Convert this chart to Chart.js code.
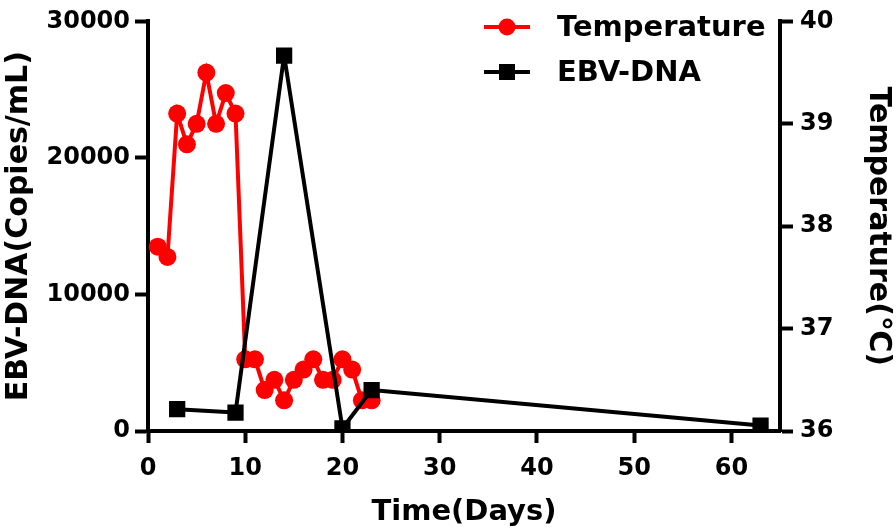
<!DOCTYPE html>
<html>
<head>
<meta charset="utf-8">
<script src="https://cdn.jsdelivr.net/npm/chart.js@4.4.0/dist/chart.umd.min.js"></script>
<style>
  html, body { margin: 0; padding: 0; background: #fff; }
  #chart { display: block; }
</style>
</head>
<body>
<canvas id="chart" width="896" height="532"></canvas>
<script>
// values
const tempDays = [1, 2, 3, 4, 5, 6, 7, 8, 9, 10, 11, 12, 13, 14, 15, 16, 17, 18, 19, 20, 21, 22, 23];
const tempValues = [37.8, 37.7, 39.1, 38.8, 39.0, 39.5, 39.0, 39.3, 39.1, 36.7, 36.7, 36.4, 36.5, 36.3, 36.5, 36.6, 36.7, 36.5, 36.5, 36.7, 36.6, 36.3, 36.3];
const ebvDays = [3, 9, 14, 20, 23, 63];
const ebvValues = [1600, 1350, 27500, 200, 3000, 400];
const xTicks = [0, 10, 20, 30, 40, 50, 60];
const leftTicks = [0, 10000, 20000, 30000];
const rightTicks = [36, 37, 38, 39, 40];

const FONT = 'DejaVu Sans';
const tickFont = { family: FONT, size: 24, weight: 'bold' };
const titleFont = { family: FONT, size: 30, weight: 'bold' };

const toPoints = (xs, ys) => xs.map((x, i) => ({ x, y: ys[i] }));
const plain = (v) => String(v);

// legend with line + marker, like the original figure
const lineLegend = {
  id: 'lineLegend',
  afterDraw(chart) {
    const ctx = chart.ctx;
    const rows = [27, 72];
    chart.data.datasets.forEach((ds, i) => {
      const y = rows[i];
      ctx.save();
      ctx.strokeStyle = ds.borderColor;
      ctx.lineWidth = 4;
      ctx.beginPath();
      ctx.moveTo(484, y);
      ctx.lineTo(530, y);
      ctx.stroke();
      ctx.fillStyle = ds.backgroundColor;
      if (ds.pointStyle === 'circle') {
        ctx.beginPath();
        ctx.arc(507, y, 8.5, 0, Math.PI * 2);
        ctx.fill();
      } else {
        ctx.fillRect(507 - 8, y - 8, 16, 16);
      }
      ctx.fillStyle = '#000';
      ctx.font = 'bold 29px ' + FONT;
      ctx.textBaseline = 'middle';
      ctx.fillText(ds.label, 557, y + 1);
      ctx.restore();
    });
  },
};

const setTicks = (values) => (scale) => {
  scale.ticks = values.map(v => ({ value: v }));
};

const axisGrid = (len) => ({ drawOnChartArea: false, drawTicks: true, tickLength: len, tickWidth: 4, tickColor: '#000' });
const axisBorder = { display: true, width: 4, color: '#000' };

new Chart(document.getElementById('chart'), {
  type: 'line',
  data: {
    datasets: [
      {
        label: 'Temperature',
        data: toPoints(tempDays, tempValues),
        yAxisID: 'y1',
        borderColor: '#ff0000',
        backgroundColor: '#ff0000',
        borderWidth: 4,
        pointStyle: 'circle',
        pointRadius: 9,
        pointHoverRadius: 9,
        pointBorderWidth: 0,
        order: 1,
      },
      {
        label: 'EBV-DNA',
        data: toPoints(ebvDays, ebvValues),
        yAxisID: 'y',
        borderColor: '#000000',
        backgroundColor: '#000000',
        borderWidth: 4,
        borderJoinStyle: 'round',
        pointStyle: 'rect',
        pointRadius: 11.5,
        pointHoverRadius: 11.5,
        pointBorderWidth: 0,
        order: 0,
      },
    ],
  },
  options: {
    responsive: false,
    animation: false,
    layout: { padding: { top: 13, right: 0, left: 0, bottom: 0 } },
    plugins: {
      legend: { display: false },
      tooltip: { enabled: false },
    },
    scales: {
      x: {
        type: 'linear',
        min: 0,
        max: 65,
        afterBuildTicks: setTicks(xTicks),
        afterFit: (s) => { s.height = 101; },
        border: axisBorder,
        grid: axisGrid(12),
        ticks: { color: '#000', font: tickFont, padding: 11, maxRotation: 0, callback: plain },
        title: { display: true, text: 'Time(Days)', color: '#000', font: { family: FONT, size: 29, weight: 'bold' }, padding: { top: 0, bottom: 2 } },
      },
      y: {
        type: 'linear',
        position: 'left',
        min: 0,
        max: 30000,
        afterBuildTicks: setTicks(leftTicks),
        afterFit: (s) => { s.width = 148; },
        border: axisBorder,
        grid: axisGrid(13),
        ticks: { color: '#000', font: tickFont, padding: 5, callback: plain },
        title: { display: true, text: 'EBV-DNA(Copies/mL)', color: '#000', font: titleFont, padding: { top: 1, bottom: 0 } },
      },
      y1: {
        type: 'linear',
        position: 'right',
        min: 36,
        max: 40,
        afterBuildTicks: setTicks(rightTicks),
        afterFit: (s) => { s.width = 116; },
        border: axisBorder,
        grid: axisGrid(13),
        ticks: { color: '#000', font: tickFont, padding: 7, callback: plain },
        title: { display: true, text: 'Temperature(℃)', color: '#000', font: titleFont, padding: { top: 0, bottom: 0 } },
      },
    },
  },
  plugins: [lineLegend],
});
</script>
</body>
</html>
